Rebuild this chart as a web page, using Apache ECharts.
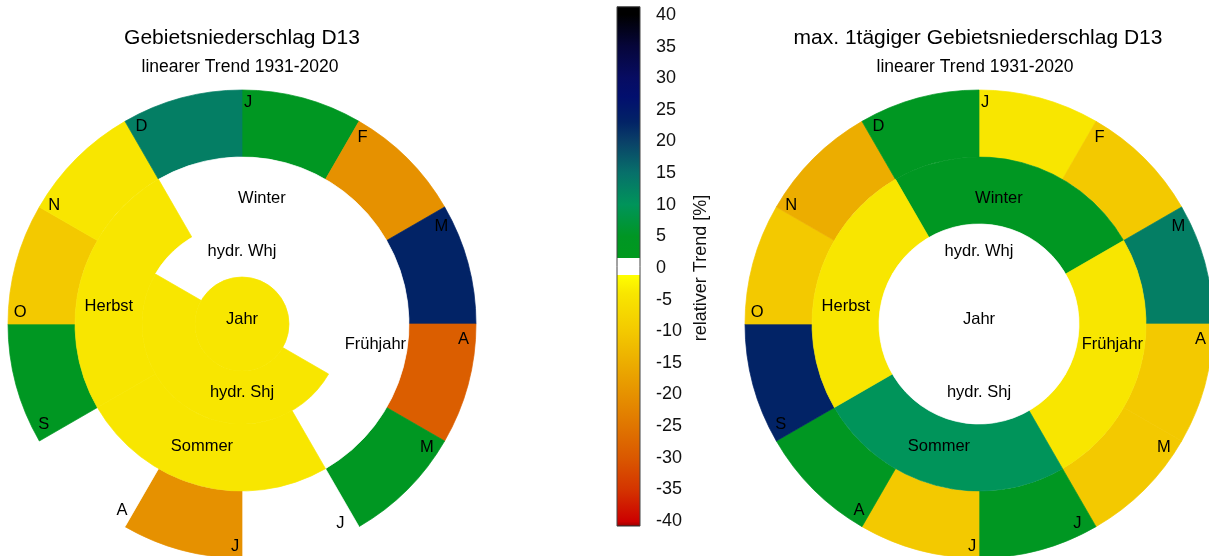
<!DOCTYPE html>
<html>
<head>
<meta charset="utf-8">
<script src="https://cdn.jsdelivr.net/npm/echarts@6/dist/echarts.min.js"></script>
<style>
  html, body { margin: 0; padding: 0; background: #fff; }
  #chart { width: 1209px; height: 556px; }
</style>
</head>
<body>
<div id="chart"></div>
<script>
// ---- labels --------------------------------------------------------------
const monthNames = ['J', 'F', 'M', 'A', 'M', 'J', 'J', 'A', 'S', 'O', 'N', 'D'];
const seasonNames = ['Winter', 'Frühjahr', 'Sommer', 'Herbst'];
const halfYearNames = ['hydr. Whj', 'hydr. Shj'];
const yearNames = ['Jahr'];

// ---- relative linear trend 1931-2020 [%], Gebietsniederschlag D13 ----------
const precipMonths    = [4, -20, 23, -29, 4, -0.5, -20, 0.5, 4, -10, -4, 13];
const precipSeasons   = [0.5, -0.5, -4, -4];
const precipHalfYears = [0.5, -4];
const precipYear      = [-4];

// ---- relative linear trend 1931-2020 [%], max. 1-day precipitation D13 ----
const maxDayMonths    = [-4, -10, 13, -10, -10, 4, -10, 4, 23, -10, -15, 4];
const maxDaySeasons   = [4, -4, 10, -4];
const maxDayHalfYears = [0.5, -0.5];
const maxDayYear      = [0];

// first month (0 = January) of each aggregate
const seasonStart = [11, 2, 5, 8];
const halfYearStart = [10, 4];

// ---- layout ----------------------------------------------------------------
const FONT = '"Liberation Sans", Arial, Helvetica, sans-serif';
const RING_EDGES = [0, 47 / 234, 100 / 234, 167 / 234, 1];
// month label: angular shift after the month start [deg]
const MONTH_LABEL_SHIFT = [1.6, 2.9, 3.8, 4.0, 3.7, 3.7, 1.8, 2.7, 3.2, 3.0, 2.2, 3.1];
const MONTH_LABEL_R = 0.949;
// [angle deg, radius fraction] for aggregate labels
const LABEL_POS = {
  'Winter': [9, 0.545], 'Frühjahr': [98.9, 0.577], 'Sommer': [198.2, 0.549], 'Herbst': [277.7, 0.574],
  'hydr. Whj': [0, 0.308], 'hydr. Shj': [180, 0.292], 'Jahr': [0, 0.02]
};

// ---- colour scale of the relative trend ---------------------------------
const COLOR_STOPS = [
  [41.3, '#000000'], [40, '#000000'], [35, '#06063a'], [30, '#070c62'], [27, '#020f6e'],
  [23, '#022366'], [20, '#0a4068'], [15, '#07706a'], [10, '#00945a'], [5, '#009624'], [1.6, '#00991e'],
  [1.6, '#ffffff'], [-1.1, '#ffffff'],
  [-1.1, '#ffff00'], [-4, '#f8e600'], [-10, '#f3c900'], [-15, '#ecad00'], [-20, '#e69100'],
  [-25, '#e07500'], [-30, '#da5800'], [-35, '#d43400'], [-40, '#cc0000'], [-40.5, '#aa0000'], [-40.8, '#220000']
];
const BAR_TOP = 41.3, BAR_BOTTOM = -40.8;

function hexToRgb(h) {
  return [parseInt(h.slice(1, 3), 16), parseInt(h.slice(3, 5), 16), parseInt(h.slice(5, 7), 16)];
}
function colorAt(v) {
  if (v >= COLOR_STOPS[0][0]) return COLOR_STOPS[0][1];
  for (let i = 0; i < COLOR_STOPS.length - 1; i++) {
    const [v0, c0] = COLOR_STOPS[i], [v1, c1] = COLOR_STOPS[i + 1];
    if (v <= v0 && v >= v1) {
      if (v0 === v1) return c1;
      const t = (v0 - v) / (v0 - v1);
      const a = hexToRgb(c0), b = hexToRgb(c1);
      return 'rgb(' + a.map((x, k) => Math.round(x + (b[k] - x) * t)).join(',') + ')';
    }
  }
  return COLOR_STOPS[COLOR_STOPS.length - 1][1];
}

// ---- segments: [angleStart, angleEnd, ring, trend] -------------------------
function buildSegments(months, seasons, halves, year) {
  const segs = [];
  months.forEach((v, i) => segs.push({ value: [i * 30, (i + 1) * 30, 3, v], label: monthNames[i], month: i }));
  seasons.forEach((v, i) => segs.push({ value: [seasonStart[i] * 30, (seasonStart[i] + 3) * 30, 2, v], label: seasonNames[i] }));
  halves.forEach((v, i) => segs.push({ value: [halfYearStart[i] * 30, (halfYearStart[i] + 6) * 30, 1, v], label: halfYearNames[i] }));
  year.forEach((v, i) => segs.push({ value: [0, 360, 0, v], label: yearNames[i] }));
  return segs;
}

function makeRenderer(segs) {
  return function (params, api) {
    const a0 = api.value(0), a1 = api.value(1), ring = api.value(2), v = api.value(3);
    const cs = params.coordSys;
    const cx = cs.cx, cy = cs.cy;
    const pOut = api.coord([RING_EDGES[ring + 1], a0]);
    const pIn = api.coord([RING_EDGES[ring], a0]);
    const rOut = Math.hypot(pOut[0] - cx, pOut[1] - cy);
    const rIn = Math.hypot(pIn[0] - cx, pIn[1] - cy);
    const start = Math.atan2(pOut[1] - cy, pOut[0] - cx);
    const end = start + (a1 - a0) * Math.PI / 180;
    const seg = segs[params.dataIndex];
    const fill = colorAt(v);
    let lp;
    if (seg.month !== undefined) {
      lp = api.coord([MONTH_LABEL_R, a0 + MONTH_LABEL_SHIFT[seg.month]]);
    } else {
      const pos = LABEL_POS[seg.label];
      lp = api.coord([pos[1], pos[0]]);
    }
    return {
      type: 'group',
      children: [
        {
          type: 'sector',
          shape: { cx: cx, cy: cy, r0: rIn, r: rOut, startAngle: start, endAngle: end, clockwise: true },
          style: { fill: fill, stroke: fill, lineWidth: 0.7 }
        },
        {
          type: 'text', x: lp[0], y: lp[1], z2: 10,
          style: { text: seg.label, fill: '#000', fontSize: 16.5, fontFamily: FONT, align: 'center', verticalAlign: 'middle' }
        }
      ]
    };
  };
}

const segsLeft = buildSegments(precipMonths, precipSeasons, precipHalfYears, precipYear);
const segsRight = buildSegments(maxDayMonths, maxDaySeasons, maxDayHalfYears, maxDayYear);

const chart = echarts.init(document.getElementById('chart'), null, { renderer: 'canvas' });

const polarAxes = (idx) => ({
  angle: { polarIndex: idx, type: 'value', min: 0, max: 360, startAngle: 90, clockwise: true, show: false },
  radius: { polarIndex: idx, type: 'value', min: 0, max: 1, show: false }
});

const option = {
  animation: false,
  backgroundColor: '#fff',
  polar: [
    { center: [242, 324], radius: 234 },
    { center: [979, 324], radius: 234 }
  ],
  angleAxis: [polarAxes(0).angle, polarAxes(1).angle],
  radiusAxis: [polarAxes(0).radius, polarAxes(1).radius],
  grid: { left: 617, top: 15, width: 23, height: 506 },
  xAxis: { type: 'value', min: 0, max: 1, show: false },
  yAxis: {
    type: 'value', min: -40, max: 40, interval: 5, position: 'right',
    axisLine: { show: false },
    axisTick: { show: true, length: 7, lineStyle: { color: '#333', width: 1 } },
    axisLabel: { color: '#111', fontSize: 18, fontFamily: FONT, margin: 16 },
    splitLine: { show: false },
    name: 'relativer Trend [%]', nameLocation: 'middle', nameRotate: 90, nameGap: 52,
    nameTextStyle: { color: '#111', fontSize: 18, fontFamily: FONT }
  },
  graphic: [
    { type: 'text', x: 242, y: 38, style: { text: 'Gebietsniederschlag D13', fill: '#000', fontSize: 21, fontFamily: FONT, align: 'center', verticalAlign: 'middle' } },
    { type: 'text', x: 240, y: 67, style: { text: 'linearer Trend 1931-2020', fill: '#000', fontSize: 17.5, fontFamily: FONT, align: 'center', verticalAlign: 'middle' } },
    { type: 'text', x: 978, y: 38, style: { text: 'max. 1tägiger Gebietsniederschlag D13', fill: '#000', fontSize: 21, fontFamily: FONT, align: 'center', verticalAlign: 'middle' } },
    { type: 'text', x: 975, y: 67, style: { text: 'linearer Trend 1931-2020', fill: '#000', fontSize: 17.5, fontFamily: FONT, align: 'center', verticalAlign: 'middle' } }
  ],
  series: [
    { type: 'custom', coordinateSystem: 'polar', polarIndex: 0, silent: true, renderItem: makeRenderer(segsLeft), data: segsLeft.map(s => s.value) },
    { type: 'custom', coordinateSystem: 'polar', polarIndex: 1, silent: true, renderItem: makeRenderer(segsRight), data: segsRight.map(s => s.value) },
    {
      // colour bar
      type: 'custom', coordinateSystem: 'cartesian2d', silent: true, clip: false,
      data: [[0, BAR_TOP, 1, BAR_BOTTOM]],
      renderItem: function (params, api) {
        const p0 = api.coord([api.value(0), api.value(1)]);
        const p1 = api.coord([api.value(2), api.value(3)]);
        const span = BAR_TOP - BAR_BOTTOM;
        const stops = COLOR_STOPS.map(s => ({ offset: (BAR_TOP - s[0]) / span, color: s[1] }));
        return {
          type: 'rect',
          shape: { x: p0[0], y: p0[1], width: p1[0] - p0[0], height: p1[1] - p0[1] },
          style: {
            fill: { type: 'linear', x: 0, y: 0, x2: 0, y2: 1, colorStops: stops },
            stroke: '#444', lineWidth: 1
          }
        };
      }
    }
  ]
};
chart.setOption(option);
</script>
</body>
</html>
